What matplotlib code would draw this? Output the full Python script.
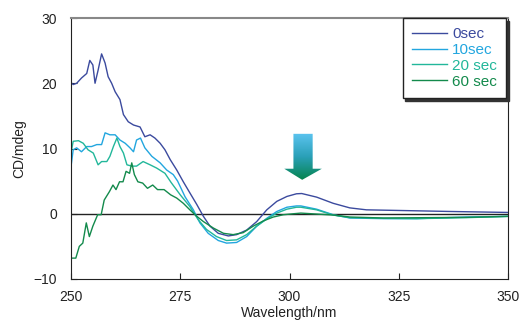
import numpy as np
import matplotlib
matplotlib.use("Agg")
import matplotlib.pyplot as plt
from matplotlib.patches import Polygon
from matplotlib.colors import LinearSegmentedColormap

plt.rcParams['font.family'] = ['Liberation Sans', 'DejaVu Sans']

# --- data ---
wl_0 = [250.0, 250.2, 250.5, 251.3, 252.4, 253.6, 254.3, 255.0, 255.5, 256.2, 257.0, 257.8, 258.5, 259.3,
        260.1, 261.2, 262.0, 263.1, 264.3, 265.8, 266.9, 268.1, 269.2, 270.4, 271.5, 272.7, 274.2,
        275.7, 277.2, 278.8, 280.3, 281.8, 283.7, 286.0, 287.9, 290.2, 292.5, 294.8, 297.1, 299.4,
        301.6, 302.8, 306.2, 310.0, 313.8, 317.6, 325.3, 336.7, 350.0]
cd_0 = [19.8, 20.0, 19.8, 20.0, 20.8, 21.5, 23.5, 22.8, 20.0, 22.0, 24.5, 23.1, 21.0, 20.0,
        18.7, 17.5, 15.2, 14.1, 13.6, 13.3, 11.8, 12.1, 11.6, 10.8, 9.8, 8.3, 6.7,
        4.9, 3.2, 1.4, -0.4, -1.9, -3.0, -3.4, -3.2, -2.5, -1.2, 0.6, 1.9, 2.65,
        3.06, 3.1, 2.55, 1.6, 0.9, 0.6, 0.5, 0.35, 0.2]

wl_10 = [250.0, 250.5, 251.3, 252.4, 253.6, 254.7, 255.9, 257.0, 257.8, 258.9, 260.1, 261.2, 262.4,
         263.5, 264.3, 265.0, 265.9, 266.9, 268.5, 270.4, 271.9, 273.4, 274.4, 276.1, 278.0,
         279.5, 281.4, 283.7, 285.6, 287.9, 290.2, 292.5, 294.8, 297.1, 299.4, 301.6, 302.6,
         306.2, 310.0, 313.8, 321.5, 329.1, 340.5, 350.0]
cd_10 = [7.2, 9.8, 10.1, 9.5, 10.3, 10.3, 10.6, 10.6, 12.4, 12.1, 12.1, 11.3, 10.8,
         10.1, 9.5, 11.3, 11.6, 10.1, 8.8, 7.8, 6.7, 6.0, 5.0, 2.6, 0.6,
         -1.4, -3.0, -4.1, -4.5, -4.4, -3.5, -1.9, -0.7, 0.35, 1.0, 1.2, 1.2,
         0.7, -0.15, -0.65, -0.75, -0.75, -0.5, -0.4]

wl_20 = [250.0, 250.5, 251.7, 252.8, 253.9, 255.1, 256.2, 257.0, 258.2, 258.9, 259.7, 260.5, 261.2,
         262.0, 262.8, 263.9, 265.0, 266.5, 268.1, 269.6, 271.5, 272.9, 275.0, 277.2, 279.1,
         281.0, 283.3, 285.6, 287.9, 290.2, 292.5, 294.8, 297.1, 299.4, 301.6, 302.6, 306.2,
         310.0, 313.8, 321.5, 329.1, 340.5, 350.0]
cd_20 = [9.3, 11.1, 11.2, 10.8, 9.8, 9.3, 7.5, 8.0, 8.0, 8.8, 10.3, 11.6, 10.3,
         9.3, 7.5, 7.3, 7.3, 8.0, 7.5, 7.0, 6.2, 4.8, 2.9, 1.1, -0.9,
         -2.4, -3.5, -4.1, -4.0, -3.2, -1.9, -0.8, 0.1, 0.7, 1.0, 1.0, 0.6,
         -0.2, -0.6, -0.7, -0.75, -0.6, -0.4]

wl_60 = [250.0, 251.1, 251.9, 252.7, 253.5, 254.2, 255.0, 256.1, 256.9, 257.6, 258.8, 259.6, 260.3,
         261.1, 261.9, 262.6, 263.4, 263.9, 264.5, 265.3, 266.4, 267.5, 268.7, 269.8, 271.3,
         272.8, 274.2, 275.7, 277.2, 278.8, 280.3, 282.6, 284.9, 287.1, 289.4, 291.7, 294.0,
         296.3, 298.6, 300.9, 302.6, 310.0, 313.8, 321.5, 340.5, 350.0]
cd_60 = [-6.8, -6.8, -5.0, -4.5, -1.4, -3.5, -1.9, -0.15, -0.15, 2.1, 3.4, 4.4, 3.7,
         4.9, 4.9, 6.5, 6.2, 7.8, 6.0, 4.9, 4.7, 3.9, 4.4, 3.7, 3.7,
         2.9, 2.4, 1.6, 0.6, -0.4, -1.2, -2.2, -3.0, -3.2, -2.9, -1.9, -1.1,
         -0.5, -0.15, 0.0, 0.1, -0.2, -0.5, -0.65, -0.55, -0.4]

labels = ['0sec', '10sec', '20 sec', '60 sec']
colors = ['#3b4a9e', '#22a6df', '#22b79a', '#138a4c']
x_ticks = [250, 275, 300, 325, 350]
y_ticks = [-10, 0, 10, 20, 30]

fig = plt.figure(figsize=(5.23, 3.22), dpi=100)
ax = fig.add_axes([71/523, 1 - 279/322, (508-71)/523, (279-18)/322])

series = [(wl_0, cd_0), (wl_10, cd_10), (wl_20, cd_20), (wl_60, cd_60)]
handles = []
for (x, y), c, lab in zip(series, colors, labels):
    h, = ax.plot(x, y, color=c, lw=1.0, label=lab)
    handles.append(h)

ax.axhline(0, color='#222222', lw=1.0, zorder=1)

ax.set_xlim(250, 350)
ax.set_ylim(-10, 30)
ax.set_xticks(x_ticks)
ax.set_yticks(y_ticks)
ax.tick_params(direction='in', length=4, labelsize=10, colors='#222222')
ax.tick_params(axis='y', pad=10)
ax.tick_params(axis='x', pad=8)
for s in ['left', 'bottom', 'right']:
    ax.spines[s].set_color('#222222')
ax.spines['top'].set_color('#888888')
ax.spines['top'].set_linewidth(1.5)
ax.set_xlabel('Wavelength/nm', fontsize=10, color='#222222', labelpad=1)
ax.set_ylabel('CD/mdeg', fontsize=10, color='#222222', labelpad=5)

leg = ax.legend(handles=handles, loc='upper right', bbox_to_anchor=(1 - 2/437, 1.0),
                borderaxespad=0.0,
                frameon=True, fancybox=False, shadow={'color': '#333333', 'alpha': 1},
                handlelength=2.3, fontsize=11, borderpad=0.6, labelspacing=0.12,
                handletextpad=0.33)
leg.get_frame().set_edgecolor('#222222')
leg.get_frame().set_linewidth(1.0)
for t, c in zip(leg.get_texts(), colors):
    t.set_color(c)

# gradient arrow
arrow_pts = [(300.9, 12.25), (305.3, 12.25), (305.3, 6.9), (307.4, 6.9),
             (302.9, 5.2), (298.8, 6.9), (300.9, 6.9)]
poly = Polygon(arrow_pts, closed=True, facecolor='none', edgecolor='none',
               transform=ax.transData)
ax.add_patch(poly)
cmap = LinearSegmentedColormap.from_list('g', ['#5cc4f0', '#2aa0b8', '#06844e'])
grad = np.linspace(0, 1, 256).reshape(-1, 1)
im = ax.imshow(grad, cmap=cmap, aspect='auto', extent=[298.8, 307.4, 5.2, 12.25],
               origin='upper', zorder=3)
im.set_clip_path(poly)
ax.set_xlim(250, 350)
ax.set_ylim(-10, 30)

fig.savefig('out.png', dpi=100)
